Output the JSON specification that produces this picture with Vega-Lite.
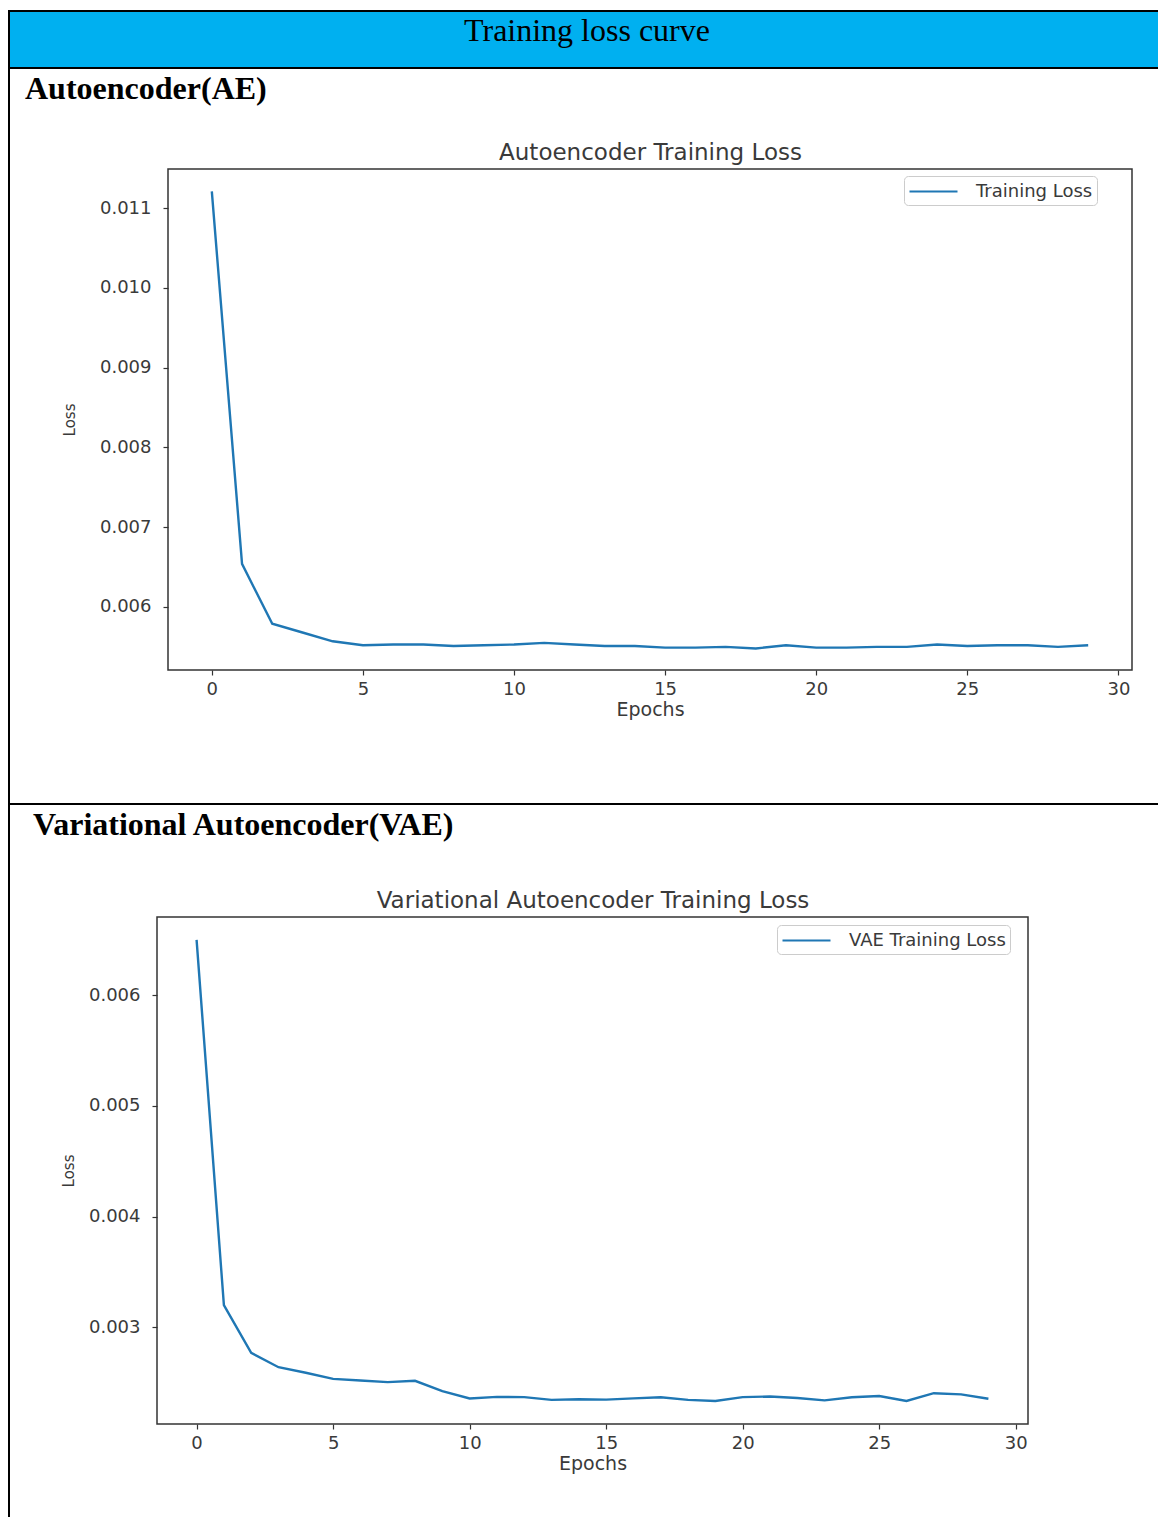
{
  "$schema": "https://vega.github.io/schema/vega-lite/v6.json",
  "background": "white",
  "padding": {"left": 8, "top": 10, "right": -22, "bottom": -22},
  "spacing": 0,
  "bounds": "flush",
  "resolve": {"scale": {"color": "independent"}, "legend": {"color": "independent"}},
  "config": {
    "axis": {
      "labelFont": "DejaVu Sans",
      "titleFont": "DejaVu Sans",
      "labelColor": "#3a3a3a",
      "titleColor": "#3a3a3a",
      "tickColor": "#333",
      "tickWidth": 1.2,
      "grid": false,
      "titleFontWeight": "normal",
      "labelFontSize": 18,
      "titleFontSize": 19
    },
    "legend": {
      "labelFont": "DejaVu Sans",
      "labelFontSize": 18,
      "labelColor": "#3a3a3a",
      "symbolType": "M-2.4,0H2.4",
      "symbolSize": 400,
      "symbolStrokeWidth": 2.2,
      "symbolOffset": 14,
      "labelOffset": 31,
      "padding": 4,
      "strokeColor": "#cccccc",
      "cornerRadius": 4,
      "fillColor": "white"
    }
  },
  "datasets": {
    "ae": [
      {"epoch": 0, "loss": 0.01121},
      {"epoch": 1, "loss": 0.00654},
      {"epoch": 2, "loss": 0.00579},
      {"epoch": 3, "loss": 0.00568},
      {"epoch": 4, "loss": 0.00557},
      {"epoch": 5, "loss": 0.00552},
      {"epoch": 6, "loss": 0.00553},
      {"epoch": 7, "loss": 0.00553},
      {"epoch": 8, "loss": 0.00551},
      {"epoch": 9, "loss": 0.00552},
      {"epoch": 10, "loss": 0.00553},
      {"epoch": 11, "loss": 0.00555},
      {"epoch": 12, "loss": 0.00553},
      {"epoch": 13, "loss": 0.00551},
      {"epoch": 14, "loss": 0.00551},
      {"epoch": 15, "loss": 0.00549},
      {"epoch": 16, "loss": 0.00549},
      {"epoch": 17, "loss": 0.0055},
      {"epoch": 18, "loss": 0.00548},
      {"epoch": 19, "loss": 0.00552},
      {"epoch": 20, "loss": 0.00549},
      {"epoch": 21, "loss": 0.00549},
      {"epoch": 22, "loss": 0.0055},
      {"epoch": 23, "loss": 0.0055},
      {"epoch": 24, "loss": 0.00553},
      {"epoch": 25, "loss": 0.00551},
      {"epoch": 26, "loss": 0.00552},
      {"epoch": 27, "loss": 0.00552},
      {"epoch": 28, "loss": 0.0055},
      {"epoch": 29, "loss": 0.00552}
    ],
    "vae": [
      {"epoch": 0, "loss": 0.0065},
      {"epoch": 1, "loss": 0.0032},
      {"epoch": 2, "loss": 0.00277},
      {"epoch": 3, "loss": 0.00264},
      {"epoch": 4, "loss": 0.00259},
      {"epoch": 5, "loss": 0.002535},
      {"epoch": 6, "loss": 0.00252},
      {"epoch": 7, "loss": 0.002505},
      {"epoch": 8, "loss": 0.002517},
      {"epoch": 9, "loss": 0.002423},
      {"epoch": 10, "loss": 0.002357},
      {"epoch": 11, "loss": 0.002372},
      {"epoch": 12, "loss": 0.00237},
      {"epoch": 13, "loss": 0.002345},
      {"epoch": 14, "loss": 0.00235},
      {"epoch": 15, "loss": 0.002347},
      {"epoch": 16, "loss": 0.002358},
      {"epoch": 17, "loss": 0.002368},
      {"epoch": 18, "loss": 0.002345},
      {"epoch": 19, "loss": 0.002335},
      {"epoch": 20, "loss": 0.00237},
      {"epoch": 21, "loss": 0.002375},
      {"epoch": 22, "loss": 0.002362},
      {"epoch": 23, "loss": 0.00234},
      {"epoch": 24, "loss": 0.002368},
      {"epoch": 25, "loss": 0.00238},
      {"epoch": 26, "loss": 0.002335},
      {"epoch": 27, "loss": 0.002405},
      {"epoch": 28, "loss": 0.002395},
      {"epoch": 29, "loss": 0.002355}
    ]
  },
  "vconcat": [
    {
      "width": 1170,
      "height": 57,
      "view": {"fill": "#00B0F0", "stroke": "black", "strokeWidth": 2},
      "data": {"values": [{"heading": "Training loss curve"}]},
      "mark": {"type": "text", "font": "Liberation Serif", "fontSize": 32, "color": "black", "baseline": "alphabetic", "dx": -7, "dy": 1},
      "encoding": {"text": {"field": "heading", "type": "nominal"}}
    },
    {
      "width": 1170,
      "height": 736,
      "view": {"stroke": "black", "strokeWidth": 2, "fill": null},
      "title": {"text": "Autoencoder(AE)", "anchor": "start", "frame": "group", "orient": "top", "offset": -38, "dx": 16, "font": "Liberation Serif", "fontSize": 32, "fontWeight": "bold", "color": "black"},
      "layer": [
        {
          "data": {"name": "ae"},
          "mark": {"type": "line", "strokeWidth": 2.4},
          "encoding": {
            "x": {"field": "epoch", "type": "quantitative",
              "scale": {"domain": [-1.45, 30.45], "range": [159, 1123], "nice": false, "zero": false},
              "axis": {"orient": "bottom", "offset": -134, "values": [0, 5, 10, 15, 20, 25, 30], "domain": false, "tickSize": 5, "labelPadding": 5, "title": "Epochs", "titlePadding": 2}},
            "y": {"field": "loss", "type": "quantitative",
              "scale": {"domain": [0.00521, 0.01149], "range": [602, 101], "nice": false, "zero": false},
              "axis": {"orient": "left", "offset": -159, "values": [0.006, 0.007, 0.008, 0.009, 0.01, 0.011], "format": ".3f", "domain": false, "tickSize": 5, "labelPadding": 12, "title": "Loss", "titleFontSize": 15, "titlePadding": 22}},
            "color": {"datum": "Training Loss", "type": "nominal",
              "scale": {"domain": ["Training Loss"], "range": ["#1f77b4"]},
              "legend": {"orient": "none", "legendX": 895, "legendY": 108, "title": null}}
          }
        },
        {
          "data": {"values": [{"frame": "plot"}]},
          "mark": {"type": "rect", "fill": "transparent", "stroke": "#333", "strokeWidth": 1.5},
          "encoding": {
            "x": {"datum": -1.45, "type": "quantitative",
              "axis": {"orient": "top", "offset": -101, "domain": false, "ticks": false, "labels": false, "title": "Autoencoder Training Loss", "titleFontSize": 23, "titlePadding": 5}},
            "x2": {"datum": 30.45},
            "y": {"datum": 0.00521, "type": "quantitative", "axis": null},
            "y2": {"datum": 0.01149}
          }
        }
      ],
      "resolve": {"axis": {"x": "independent", "y": "independent"}}
    },
    {
      "width": 1170,
      "height": 734,
      "view": {"stroke": "black", "strokeWidth": 2, "fill": null},
      "title": {"text": "Variational Autoencoder(VAE)", "anchor": "start", "frame": "group", "orient": "top", "offset": -38, "dx": 24, "font": "Liberation Serif", "fontSize": 32, "fontWeight": "bold", "color": "black"},
      "layer": [
        {
          "data": {"name": "vae"},
          "mark": {"type": "line", "strokeWidth": 2.4},
          "encoding": {
            "x": {"field": "epoch", "type": "quantitative",
              "scale": {"domain": [-1.45, 30.45], "range": [148, 1019], "nice": false, "zero": false},
              "axis": {"orient": "bottom", "offset": -114, "values": [0, 5, 10, 15, 20, 25, 30], "domain": false, "tickSize": 5, "labelPadding": 5, "title": "Epochs", "titlePadding": 2}},
            "y": {"field": "loss", "type": "quantitative",
              "scale": {"domain": [0.002127, 0.006706], "range": [620, 113], "nice": false, "zero": false},
              "axis": {"orient": "left", "offset": -148, "values": [0.003, 0.004, 0.005, 0.006], "format": ".3f", "domain": false, "tickSize": 5, "labelPadding": 12, "title": "Loss", "titleFontSize": 15, "titlePadding": 12}},
            "color": {"datum": "VAE Training Loss", "type": "nominal",
              "scale": {"domain": ["VAE Training Loss"], "range": ["#1f77b4"]},
              "legend": {"orient": "none", "legendX": 768, "legendY": 121, "title": null}}
          }
        },
        {
          "data": {"values": [{"frame": "plot"}]},
          "mark": {"type": "rect", "fill": "transparent", "stroke": "#333", "strokeWidth": 1.5},
          "encoding": {
            "x": {"datum": -1.45, "type": "quantitative",
              "axis": {"orient": "top", "offset": -113, "domain": false, "ticks": false, "labels": false, "title": "Variational Autoencoder Training Loss", "titleFontSize": 23, "titlePadding": 5}},
            "x2": {"datum": 30.45},
            "y": {"datum": 0.002127, "type": "quantitative", "axis": null},
            "y2": {"datum": 0.006706}
          }
        }
      ],
      "resolve": {"axis": {"x": "independent", "y": "independent"}}
    }
  ]
}
